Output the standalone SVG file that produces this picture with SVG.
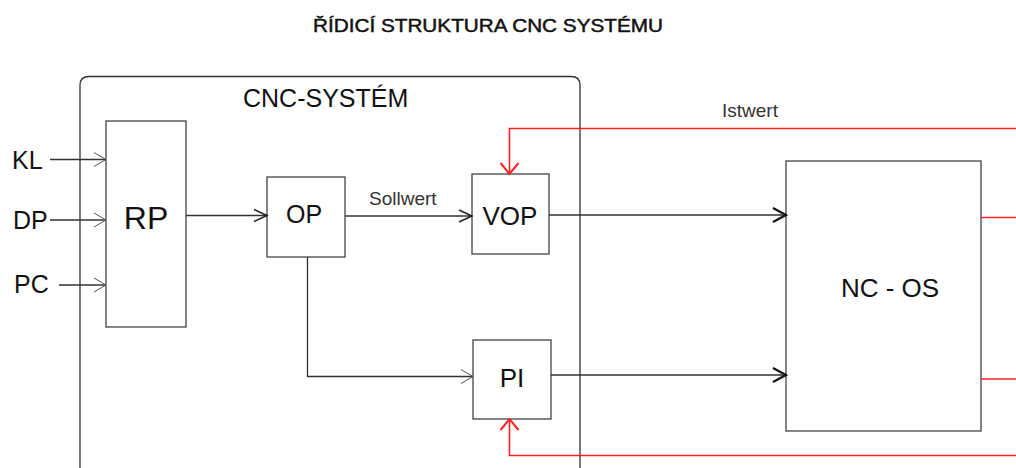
<svg xmlns="http://www.w3.org/2000/svg" width="1016" height="468" viewBox="0 0 1016 468">
<style>
.box{fill:#fff;stroke:#444;stroke-width:1.3}
.ln{fill:none;stroke:#333;stroke-width:1.3}
.rd{fill:none;stroke:#ff2020;stroke-width:1.6}
.t{font-family:"Liberation Sans",Arial,sans-serif;fill:#111}
.s{font-family:"Liberation Sans",Arial,sans-serif;fill:#333;font-size:19px}
</style>
<defs>
<marker id="aThin" markerUnits="userSpaceOnUse" viewBox="-15 -10 16 20" markerWidth="16" markerHeight="20" refX="0" refY="0" orient="auto" overflow="visible">
<path d="M-12,-7 L0,0 L-12,7" fill="none" stroke="#555" stroke-width="1"/>
</marker>
<marker id="aMid" markerUnits="userSpaceOnUse" viewBox="-15 -10 16 20" markerWidth="16" markerHeight="20" refX="0" refY="0" orient="auto" overflow="visible">
<path d="M-13,-6 L0,0 L-13,6" fill="none" stroke="#222" stroke-width="1.5"/>
</marker>
<marker id="aBold" markerUnits="userSpaceOnUse" viewBox="-15 -10 16 20" markerWidth="16" markerHeight="20" refX="0" refY="0" orient="auto" overflow="visible">
<path d="M-13,-7 L0,0 L-13,7" fill="none" stroke="#111" stroke-width="2.2"/>
</marker>
<marker id="aRed" markerUnits="userSpaceOnUse" viewBox="-15 -10 16 20" markerWidth="16" markerHeight="20" refX="0" refY="0" orient="auto" overflow="visible">
<path d="M-11,-9 L0,0 L-11,9" fill="none" stroke="#ff2020" stroke-width="2"/>
</marker>
</defs>
<rect width="1016" height="468" fill="#fff"/>
<text class="t" x="313" y="32" font-size="17.5" stroke="#111" stroke-width="0.45" textLength="350" lengthAdjust="spacingAndGlyphs">ŘÍDICÍ STRUKTURA CNC SYSTÉMU</text>
<g id="cnc-system">
<path d="M80,468 L80,85 Q80,76.5 89,76.5 L571,76.5 Q580,76.5 580,85 L580,468" class="ln"/>
<text class="t" x="243" y="107" font-size="25">CNC-SYSTÉM</text>
</g>
<g id="KL"><text class="t" x="12" y="169" font-size="25">KL</text></g>
<g id="DP"><text class="t" x="13" y="229" font-size="25">DP</text></g>
<g id="PC"><text class="t" x="14" y="293" font-size="25">PC</text></g>
<g id="RP">
<rect class="box" x="106" y="121" width="80" height="206"/>
<text class="t" x="146" y="229" font-size="32" text-anchor="middle">RP</text>
</g>
<g id="OP">
<rect class="box" x="267" y="177" width="78" height="80"/>
<text class="t" x="304" y="223" font-size="25" text-anchor="middle">OP</text>
</g>
<g id="VOP">
<rect class="box" x="472" y="174" width="77" height="80"/>
<text class="t" x="510" y="225" font-size="26" text-anchor="middle">VOP</text>
</g>
<g id="PI">
<rect class="box" x="473" y="340" width="78" height="79"/>
<text class="t" x="512" y="387" font-size="26" text-anchor="middle">PI</text>
</g>
<g id="NC-OS">
<rect class="box" x="786" y="161" width="195" height="270"/>
<text class="t" x="890" y="297" font-size="26" text-anchor="middle">NC - OS</text>
</g>
<g id="connectors">
<path class="ln" d="M50,159.5 L106,159.5" marker-end="url(#aThin)"/>
<path class="ln" d="M50,220 L106,220" marker-end="url(#aThin)"/>
<path class="ln" d="M59,285 L106,285" marker-end="url(#aThin)"/>
<path class="ln" d="M186,215.5 L267,215.5" marker-end="url(#aMid)"/>
<path class="ln" d="M345,216 L472,216" marker-end="url(#aMid)"/>
<text class="s" x="369" y="205">Sollwert</text>
<path class="ln" d="M307.5,257 L307.5,376.5 L473,376.5" marker-end="url(#aThin)"/>
<path class="ln" d="M549,215 L786,215" marker-end="url(#aBold)"/>
<path class="ln" d="M551,375 L786,375" marker-end="url(#aBold)"/>
<path class="rd" d="M1016,128.5 L509.5,128.5 L509.5,174" marker-end="url(#aRed)"/>
<text class="s" x="722" y="117">Istwert</text>
<path class="rd" d="M1016,455.5 L509.5,455.5 L509.5,419" marker-end="url(#aRed)"/>
<path class="rd" d="M981,217.5 L1016,217.5"/>
<path class="rd" d="M981,379 L1016,379"/>
</g>
</svg>
